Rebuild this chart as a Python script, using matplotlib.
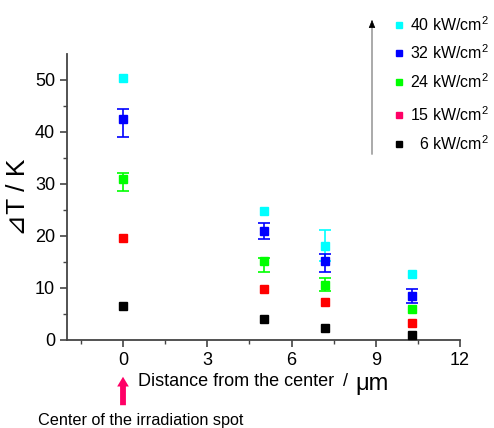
import matplotlib.pyplot as plt
from matplotlib.patches import FancyArrowPatch

plt.rcParams['font.family'] = ['Liberation Sans', 'DejaVu Sans']
plt.rcParams['mathtext.fontset'] = 'custom'
plt.rcParams['mathtext.rm'] = 'Liberation Sans'

# distance from the center (um)
distance = [0, 5.0, 7.2, 10.3]

# power densities, top to bottom in the legend
powers = ['40', '32', '24', '15', '6']
colors = ['#00FFFF', '#0000FF', '#00FF00', '#FF0000', '#000000']
legend_colors = ['#00FFFF', '#0000FF', '#00FF00', '#FF0066', '#000000']

# delta T (K) for each power
dT = {
    '40': [50.3, 24.8, 18.1, 12.7],
    '32': [42.5, 21.0, 15.2, 8.5],
    '24': [31.0, 15.1, 10.6, 6.0],
    '15': [19.6, 9.8, 7.3, 3.3],
    '6':  [6.5, 4.0, 2.3, 0.9],
}
# error bars (lower, upper), 0 = no bar
err_lo = {
    '40': [0, 0, 3.0, 0],
    '32': [3.5, 1.6, 2.1, 1.3],
    '24': [2.3, 2.0, 1.1, 0],
    '15': [0, 0, 0, 0],
    '6':  [0, 0, 0, 0],
}
err_hi = {
    '40': [0, 0, 3.1, 0],
    '32': [2.0, 1.5, 1.3, 1.3],
    '24': [1.2, 0.7, 1.3, 0],
    '15': [0, 0, 0, 0],
    '6':  [0, 0, 0, 0],
}

fig = plt.figure(figsize=(4.94, 4.28), dpi=100)
ax = fig.add_axes([67/494, 88/428, 393/494, 286/428])

for p, c in zip(powers, colors):
    idx = [i for i in range(len(distance)) if err_lo[p][i] or err_hi[p][i]]
    if idx:
        ax.errorbar([distance[i] for i in idx], [dT[p][i] for i in idx],
                    yerr=[[err_lo[p][i] for i in idx], [err_hi[p][i] for i in idx]],
                    fmt='none', ecolor=c, elinewidth=1.2, capsize=4, capthick=1.2, zorder=2)
    ax.plot(distance, dT[p], 's', color=c, ms=6, mec=c, zorder=3)

ax.set_xlim(-2, 12)
ax.set_ylim(0, 55)
ax.set_xticks([0, 3, 6, 9, 12])
ax.set_xticks([-1.5, 1.5, 4.5, 7.5, 10.5], minor=True)
ax.set_yticks([0, 10, 20, 30, 40, 50])
ax.set_yticks([5, 15, 25, 35, 45], minor=True)
for s in ['top', 'right']:
    ax.spines[s].set_visible(False)
for s in ['left', 'bottom']:
    ax.spines[s].set_linewidth(1.3)
    ax.spines[s].set_color('#444444')
ax.tick_params(which='major', direction='out', length=5, width=1.2, labelsize=13, color='#444444')
ax.tick_params(which='minor', direction='out', length=3, width=1.0, color='#444444')

ax.set_ylabel('\u22bfT / K', fontsize=19, labelpad=4)

fig.text(138/494, 1 - 382/428, 'Distance from the center', fontsize=13,
         ha='left', va='center')
fig.text(345/494, 1 - 382/428, '/', fontsize=13, ha='center', va='center')
fig.text(355/494, 1 - 384/428, '\u03bcm', fontsize=17, ha='left', va='center')
fig.text(38/494, 1 - 420/428, 'Center of the irradiation spot', fontsize=11.7,
         ha='left', va='center')

# pink arrow marking the irradiation spot
fig.add_artist(FancyArrowPatch(
    (123/494, 1 - 408/428), (123/494, 1 - 374/428), transform=fig.transFigure,
    arrowstyle='simple,head_width=0.6,head_length=0.5,tail_width=0.3',
    mutation_scale=14, color='#FF0066', lw=0))

# power arrow and legend
fig.add_artist(FancyArrowPatch(
    (372/494, 1 - 157/428), (372/494, 1 - 24/428), transform=fig.transFigure,
    arrowstyle='-', color='#888888', lw=1.0))
fig.add_artist(FancyArrowPatch(
    (372/494, 1 - 26/428), (372/494, 1 - 17/428), transform=fig.transFigure,
    arrowstyle='-|>,head_width=0.2,head_length=0.5', mutation_scale=10,
    color='black', lw=0.5))
rows_y = [25, 53, 82, 115, 144]
for p, c, y in zip(powers, legend_colors, rows_y):
    fig.add_artist(plt.Line2D([399/494], [1 - y/428], marker='s', ms=5, color=c,
                              mec=c, transform=fig.transFigure))
    fig.text(489/494, 1 - y/428, p + ' kW/cm$^2$', fontsize=11.5, ha='right', va='center')

fig.savefig('out.png', dpi=100)
